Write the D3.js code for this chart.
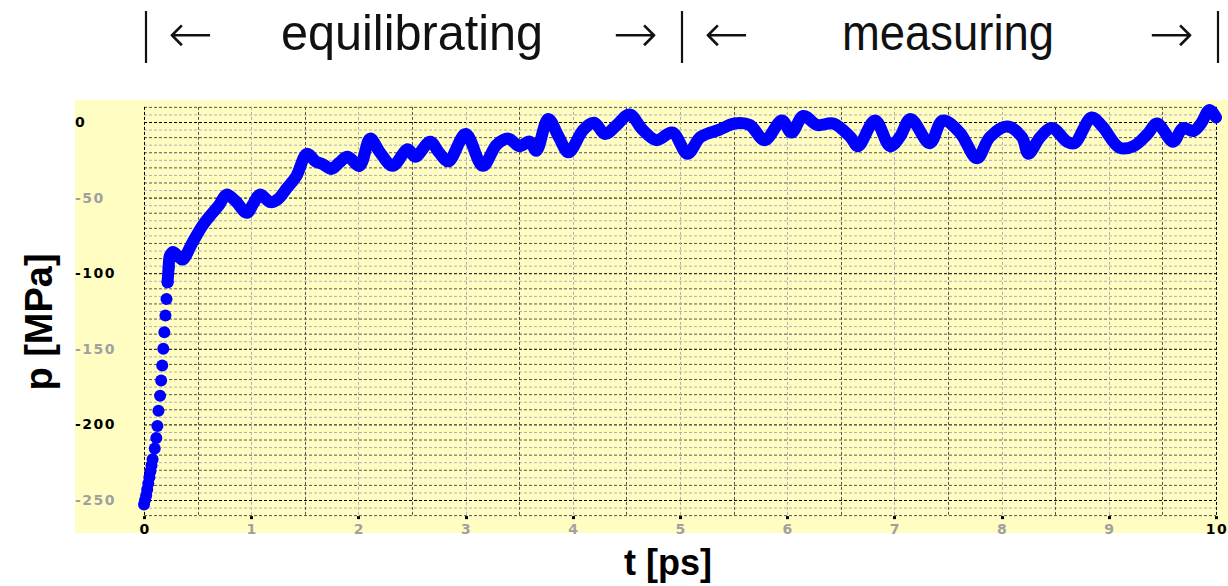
<!DOCTYPE html>
<html>
<head>
<meta charset="utf-8">
<script src="https://cdn.jsdelivr.net/npm/d3@7"></script>
<style>
  body { margin: 0; background: #fff; }
  svg { display: block; }
</style>
</head>
<body>
<div id="chart"></div>
<script>
// time [ps] and pressure [MPa]
const tValues = [0, 0.01, 0.02, 0.03, 0.04, 0.05, 0.06, 0.07, 0.08, 0.10, 0.115, 0.125, 0.135, 0.15, 0.16,
    0.17, 0.18, 0.19, 0.20, 0.21, 0.22, 0.23, 0.24,
    0.27, 0.32, 0.36, 0.45, 0.55, 0.64, 0.70, 0.77, 0.85, 0.96, 1.02, 1.08, 1.18, 1.25, 1.33, 1.42, 1.52,
    1.60, 1.67, 1.75, 1.82, 1.90, 2.01, 2.11, 2.20, 2.32, 2.46, 2.53, 2.67, 2.75, 2.84, 3.00, 3.16, 3.29,
    3.40, 3.50, 3.60, 3.66, 3.77, 3.87, 3.96, 4.10, 4.20, 4.30, 4.41, 4.53, 4.65, 4.78, 4.93, 5.07, 5.19,
    5.37, 5.51, 5.65, 5.79, 5.95, 6.04, 6.15, 6.28, 6.43, 6.59, 6.66, 6.82, 6.96, 7.05, 7.15, 7.33, 7.45,
    7.61, 7.77, 7.89, 8.05, 8.19, 8.25, 8.36, 8.47, 8.61, 8.68, 8.84, 8.94, 9.10, 9.23, 9.36, 9.45, 9.60,
    9.69, 9.79, 9.86, 9.94, 10.0];
const pValues = [-253, -250, -247, -243, -239, -235, -231, -227, -223, -216, -209, -201, -191, -181, -171,
    -161, -150, -139, -128, -117, -106, -96, -89,
    -86, -89, -91, -80, -68, -60, -55, -48, -52, -60, -54, -48, -53, -51, -44, -36, -21,
    -26, -28, -31, -27, -23, -29, -11, -20, -29, -18, -23, -13, -20, -26, -8, -29, -15,
    -11, -16, -13, -19, 2, -10, -20, -5, -0.5, -8, -2, 5, -5, -12, -7, -21, -10,
    -5, -1, -2, -12, 1, -7, 4, -2, -1, -10, -16, 1, -16, -10, 2, -14, 1,
    -7, -24, -10, -3, -10, -21, -10, -4, -13, -14, 3, -3, -17, -16, -8, -1, -13,
    -4, -6, -1, 8, 3];
const dotsUntil = 0.24; // separate dots visible during the fast rise

const xTicks = [0, 1, 2, 3, 4, 5, 6, 7, 8, 9, 10];
const yTicks = [0, -50, -100, -150, -200, -250];
const phases = ['equilibrating', 'measuring'];
const phaseEdges = [0, 5, 10];

const width = 1228, height = 586;
const x = d3.scaleLinear().domain([0, 10]).range([144, 1216]);
const y = d3.scaleLinear().domain([-250, 0]).range([500, 122]);
const gridTop = 10, gridBottom = -260;

const svg = d3.select('#chart').append('svg')
    .attr('width', width)
    .attr('height', height);

// yellow plot area
svg.append('rect')
    .attr('x', 75).attr('y', 100)
    .attr('width', width - 75).attr('height', 433)
    .attr('fill', '#fffdc2');

// grid
const grid = svg.append('g').attr('fill', 'none').attr('stroke-dasharray', '3,2');
d3.range(gridBottom, gridTop + 1, 5).forEach(v => {
    let col = (v % 50 == 0) ? '#000' : (v % 10 == 0 ? '#555' : '#b0b0b0');
    grid.append('line')
        .attr('x1', x(0)).attr('x2', x(10))
        .attr('y1', y(v) + 0.5).attr('y2', y(v) + 0.5)
        .attr('stroke', col).attr('stroke-width', 1);
});
d3.range(0, 10.01, 0.5).forEach(t => {
    let col = (t == 0 || t == 10) ? '#000' : (t % 1 == 0 ? '#b0b0b0' : '#555');
    grid.append('line')
        .attr('x1', Math.round(x(t)) + 0.5).attr('x2', Math.round(x(t)) + 0.5)
        .attr('y1', y(gridTop)).attr('y2', y(gridBottom))
        .attr('stroke', col).attr('stroke-width', 1);
});

// tick marks on bottom edge
svg.append('g').selectAll('rect')
    .data(xTicks).enter().append('rect')
    .attr('x', d => Math.round(x(d)) - 1)
    .attr('y', y(gridBottom) + 1)
    .attr('width', 3).attr('height', 3)
    .attr('fill', '#000');

// tick labels
const tickFont = { 'font-family': 'DejaVu Sans', 'font-weight': 'bold', 'font-size': '14px', 'letter-spacing': '1.5px' };
const xl = svg.append('g').selectAll('text')
    .data(xTicks).enter().append('text')
    .attr('x', d => x(d) + 1)
    .attr('y', 534)
    .attr('text-anchor', 'middle')
    .attr('fill', d => (d == 0 || d == 10) ? '#000' : '#a0a0a0')
    .text(d => d);
const yl = svg.append('g').selectAll('text')
    .data(yTicks).enter().append('text')
    .attr('x', 75)
    .attr('y', d => y(d) + 5)
    .attr('fill', (d, i) => i % 2 == 0 ? '#000' : '#a0a0a0')
    .text(d => d);
[xl, yl].forEach(sel => {
    Object.keys(tickFont).forEach(k => sel.attr(k, tickFont[k]));
});

// the curve: thick line after the rise, dots for the rise
const pts = tValues.map((t, i) => [t, pValues[i]]);
const line = d3.line()
    .x(d => x(d[0]))
    .y(d => y(d[1]))
    .curve(d3.curveCatmullRom.alpha(0.5));

svg.append('path')
    .datum(pts.filter(d => d[0] >= dotsUntil - 0.02))
    .attr('d', line)
    .attr('fill', 'none')
    .attr('stroke', '#0000ff')
    .attr('stroke-width', 12)
    .attr('stroke-linecap', 'round')
    .attr('stroke-linejoin', 'round');

svg.append('g').selectAll('circle')
    .data(pts.filter(d => d[0] <= dotsUntil))
    .enter().append('circle')
    .attr('cx', d => x(d[0]))
    .attr('cy', d => y(d[1]))
    .attr('r', 6)
    .attr('fill', '#0000ff');

// axis titles
svg.append('text')
    .attr('transform', 'translate(52,' + 322 + ') rotate(-90)')
    .attr('text-anchor', 'middle')
    .attr('font-family', 'Liberation Sans')
    .attr('font-weight', 'bold')
    .attr('font-size', '38px')
    .text('p [MPa]');

svg.append('text')
    .attr('x', 668).attr('y', 575)
    .attr('text-anchor', 'middle')
    .attr('font-family', 'Liberation Sans')
    .attr('font-weight', 'bold')
    .attr('font-size', '36px')
    .text('t [ps]');

// phase header:  | <-  equilibrating  -> | <-  measuring  -> |
const head = svg.append('g');
phaseEdges.forEach(t => {
    head.append('line')
        .attr('x1', x(t) + 2).attr('x2', x(t) + 2)
        .attr('y1', 11).attr('y2', 63)
        .attr('stroke', '#111').attr('stroke-width', 2.2);
});
phases.forEach((label, i) => {
    const a = x(phaseEdges[i]), b = x(phaseEdges[i + 1]);
    head.append('text')
        .attr('x', a + 24).attr('y', 52)
        .attr('font-family', 'DejaVu Sans').attr('font-weight', 300)
        .attr('font-size', '54px').attr('fill', '#111')
        .text('\u2190');
    head.append('text')
        .attr('x', b - 22).attr('y', 52)
        .attr('text-anchor', 'end')
        .attr('font-family', 'DejaVu Sans').attr('font-weight', 300)
        .attr('font-size', '54px').attr('fill', '#111')
        .text('\u2192');
    head.append('text')
        .attr('x', (a + b) / 2).attr('y', 50)
        .attr('text-anchor', 'middle')
        .attr('font-family', 'Liberation Sans')
        .attr('font-size', '50px').attr('fill', '#111')
        .attr('textLength', i == 0 ? 262 : 212)
        .attr('lengthAdjust', 'spacingAndGlyphs')
        .text(label);
});
</script>
</body>
</html>
